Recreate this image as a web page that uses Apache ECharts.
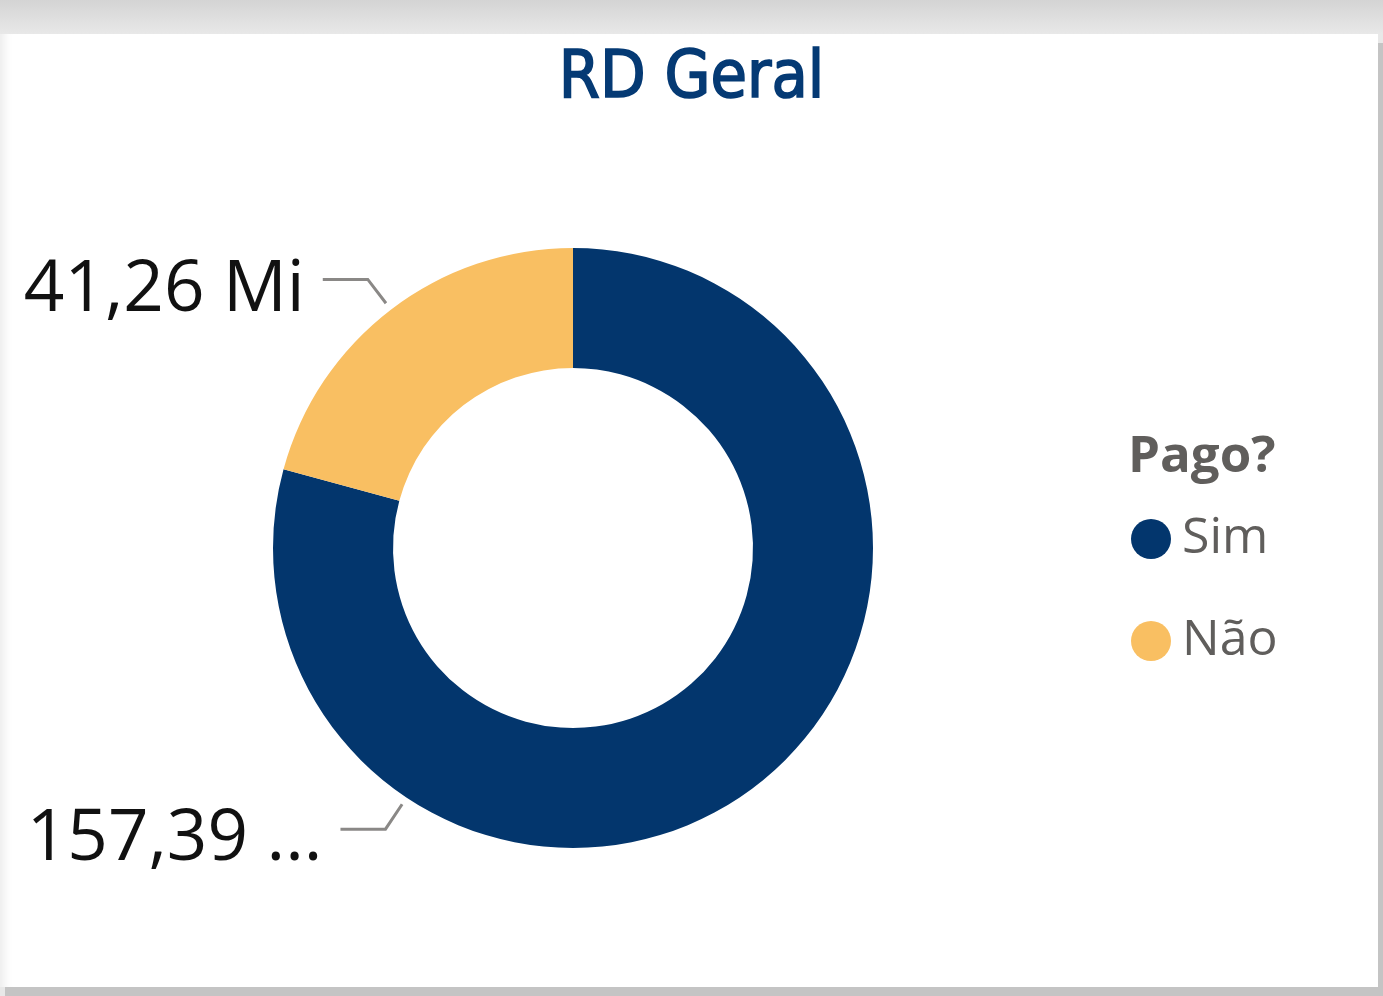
<!DOCTYPE html>
<html>
<head>
<meta charset="utf-8">
<title>RD Geral</title>
<script src="https://cdn.jsdelivr.net/npm/echarts@6/dist/echarts.min.js"></script>
<style>
  html, body {
    margin: 0;
    padding: 0;
    width: 1383px;
    height: 996px;
    overflow: hidden;
    background: linear-gradient(#d4d4d4, #e8e8e8 34px, #e8e8e8);
  }
  #card {
    position: absolute;
    left: 0;
    top: 34px;
    width: 1378px;
    height: 953px;
    background: #fff;
    box-shadow: 5px 9px 0 #c4c4c4, inset 12px 0 10px -8px #ececec;
  }
  #chart {
    position: absolute;
    left: 0;
    top: 0;
    width: 1383px;
    height: 996px;
  }
</style>
</head>
<body>
<div id="card"></div>
<div id="chart"></div>
<script>
  // dados
  const categorias = ["Sim", "Não"];
  const valores = [157.39, 41.26];
  const rotulos = ["157,39 ...", "41,26 Mi"];
  const cores = ["#03366d", "#f9bf62"];

  const chart = echarts.init(document.getElementById("chart"));

  const centro = [573, 548];
  const raioExterno = 300;
  // ângulo do rótulo (null = meio da fatia)
  const angulosRotulo = [236.3, null];

  const total = valores.reduce((s, v) => s + v, 0);

  function anguloMeio(i) {
    let antes = 0;
    for (let k = 0; k < i; k++) antes += valores[k];
    return 90 - (360 * (antes + valores[i] / 2)) / total;
  }

  const option = {
    title: [
      {
        text: "RD Geral",
        left: "center",
        top: 42,
        textStyle: {
          fontFamily: "DejaVu Sans Condensed",
          fontWeight: "normal",
          fontSize: 66,
          color: "#053a74",
          textBorderColor: "#053a74",
          textBorderWidth: 1.6,
        },
      },
      {
        text: "Pago?",
        left: 1123,
        top: 427,
        textStyle: {
          fontFamily: "Open Sans",
          fontWeight: "bold",
          fontSize: 51,
          color: "#605e5c",
        },
      },
    ],
    legend: {
      orient: "vertical",
      left: 1131,
      top: 514,
      padding: 0,
      icon: "circle",
      itemWidth: 40,
      itemHeight: 40,
      itemGap: 52,
      data: categorias,
      textStyle: {
        fontFamily: "Open Sans",
        fontSize: 50,
        color: "#605e5c",
        padding: [0, 0, 0, 6],
      },
    },
    series: [
      {
        type: "pie",
        center: centro,
        radius: [180, raioExterno],
        startAngle: 90,
        clockwise: true,
        avoidLabelOverlap: false,
        silent: true,
        data: categorias.map((c, i) => ({
          name: c,
          value: valores[i],
          itemStyle: { color: cores[i] },
        })),
        label: {
          show: true,
          formatter: (p) => rotulos[p.dataIndex],
          fontFamily: "Open Sans",
          fontSize: 71,
          color: "#111",
        },
        labelLine: {
          show: true,
          length: 30,
          length2: 45,
          lineStyle: { color: "#8a8886", width: 3 },
        },
        labelLayout: function (p) {
          const i = p.dataIndex;
          const ang =
            ((angulosRotulo[i] != null ? angulosRotulo[i] : anguloMeio(i)) *
              Math.PI) /
            180;
          const dx = Math.cos(ang);
          const dy = -Math.sin(ang);
          const r0 = raioExterno + 8;
          const x0 = centro[0] + r0 * dx;
          const y0 = centro[1] + r0 * dy;
          const x1 = x0 + 30 * dx;
          const y1 = y0 + 30 * dy;
          const x2 = x1 - 45;
          return {
            x: x2 - 18,
            y: y1 + 11,
            align: "right",
            verticalAlign: "middle",
            labelLinePoints: [
              [x0, y0],
              [x1, y1],
              [x2, y1],
            ],
          };
        },
      },
    ],
  };

  chart.setOption(option);
</script>
</body>
</html>
